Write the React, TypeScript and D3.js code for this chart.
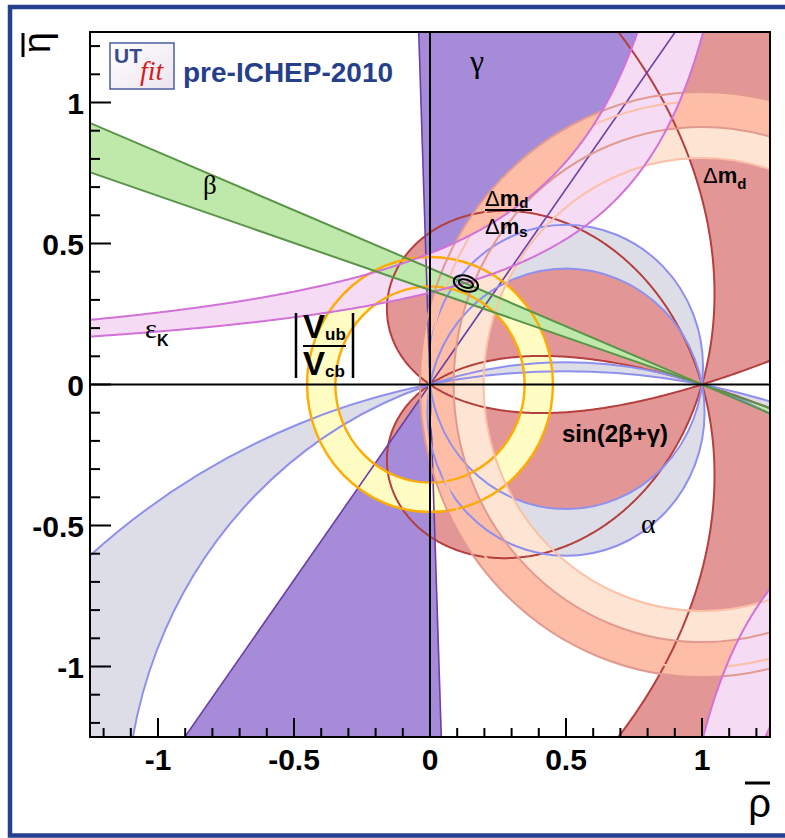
import React from 'react';
import * as d3 from 'd3';

// ---- canvas & axes ----
const WIDTH = 785;
const HEIGHT = 838;
const MARGIN = { left: 90, right: 15, top: 32, bottom: 101 };

const rhoRange = [-1.25, 1.25];
const etaRange = [-1.25, 1.25];
const majorTicks = [-1, -0.5, 0, 0.5, 1];
const majorTickLabels = ['-1', '-0.5', '0', '0.5', '1'];
const minorTicks = [-1.2, -1.1, -0.9, -0.8, -0.7, -0.6, -0.4, -0.3, -0.2, -0.1, 0.1, 0.2, 0.3, 0.4, 0.6, 0.7, 0.8, 0.9, 1.1, 1.2];

// ---- constraint bands (angles in degrees) ----
const gammaRange = [54.2, 91.9];
const betaRange = [18.5, 22.4];
const alphaRangeMain = [82.9, 101.1];
const alphaRangeMirror = [162.0, 169.2];
const sin2bgThreshold = [0.55];
const vubVcbRadius = [0.348, 0.452];
const dmdRadius = [0.803, 1.003];
const dmdDmsRadius = [0.913, 1.037];
// eps_K hyperbolae: eta = norm / (pole - rho)
const epsKPole = [1.215, 1.359];
const epsKNorm = [0.565, 0.443];
const epsKPoleLow = [0.665, 0.665];
const epsKNormLow = [0.424, 0.71];

// ---- fit result (68% / 95% contours) ----
const fitCenter = [0.132, 0.358];
const fitSemiAxes68 = [0.027, 0.014];
const fitSemiAxes95 = [0.046, 0.027];
const fitTilt = [18];

const x = d3.scaleLinear().domain(rhoRange).range([MARGIN.left, WIDTH - MARGIN.right]);
const y = d3.scaleLinear().domain(etaRange).range([HEIGHT - MARGIN.bottom, MARGIN.top]);
const kx = x(1) - x(0);
const ky = y(0) - y(1);
const deg = Math.PI / 180;

const line = d3.line<number[]>().x((d) => x(d[0])).y((d) => y(d[1]));

function circlePath(cr: number, ce: number, r: number) {
  const cx = x(cr), cy = y(ce), rx = r * kx, ry = r * ky;
  return `M${cx + rx},${cy}A${rx},${ry} 0 1 0 ${cx - rx},${cy}A${rx},${ry} 0 1 0 ${cx + rx},${cy}Z`;
}

// circle through (0,0) and (1,0) on which the angle alpha is constant
function alphaCircle(aDeg: number) {
  const t = aDeg * deg;
  return circlePath(0.5, 0.5 / Math.tan(t), 0.5 / Math.abs(Math.sin(t)));
}

function wedge(apex: number[], dirs: number[]) {
  const L = 8;
  const p = (t: number, s: number) => [apex[0] + s * L * Math.cos(t * deg), apex[1] + s * L * Math.sin(t * deg)];
  const up = [apex, p(dirs[0], 1), p(dirs[1], 1), apex];
  const down = [apex, p(dirs[0], -1), p(dirs[1], -1), apex];
  return line(up) + 'Z' + line(down) + 'Z';
}

function rayLine(apex: number[], t: number) {
  const L = 8;
  return line([
    [apex[0] - L * Math.cos(t * deg), apex[1] - L * Math.sin(t * deg)],
    [apex[0] + L * Math.cos(t * deg), apex[1] + L * Math.sin(t * deg)],
  ]);
}

function hyperbola(pole: number, norm: number, r0: number, r1: number) {
  const N = 500;
  return d3.range(N + 1).map((i) => {
    const r = r0 + ((r1 - r0) * i) / N;
    return [r, norm / (pole - r)];
  });
}

// eps_K upper band
const epsUpperA = hyperbola(epsKPole[0], epsKNorm[0], -1.3, epsKPole[0] - epsKNorm[0] / 1.45);
const epsUpperB = hyperbola(epsKPole[1], epsKNorm[1], -1.3, epsKPole[1] - epsKNorm[1] / 1.45);
const epsUpperBand = line([...epsUpperA, ...epsUpperB.slice().reverse()]) + 'Z';
// eps_K lower-right band
const epsLowA = hyperbola(epsKPoleLow[0], epsKNormLow[0], epsKPoleLow[0] + epsKNormLow[0] / 1.45, 1.3);
const epsLowB = hyperbola(epsKPoleLow[1], epsKNormLow[1], epsKPoleLow[1] + epsKNormLow[1] / 1.45, 1.3);
const epsLowBand = line([...epsLowA, ...epsLowB.slice().reverse()]) + 'Z';

// |sin(2beta+gamma)| region from a sampled grid
function sin2bgPath() {
  const n = 521, lo = -1.3, hi = 1.3, step = (hi - lo) / (n - 1);
  const values = new Array(n * n);
  for (let j = 0; j < n; j++) {
    const eta = lo + j * step;
    for (let i = 0; i < n; i++) {
      const rho = lo + i * step;
      const b = Math.atan2(eta, 1 - rho);
      const g = Math.atan2(eta, rho);
      values[j * n + i] = Math.abs(Math.sin(2 * b + g));
    }
  }
  const [c] = d3.contours().size([n, n]).thresholds(sin2bgThreshold)(values);
  const toPx = (p: number[]) => `${x(lo + (p[0] - 0.5) * step).toFixed(2)},${y(lo + (p[1] - 0.5) * step).toFixed(2)}`;
  return c.coordinates
    .map((poly) => poly.map((ring) => 'M' + ring.map(toPx).join('L') + 'Z').join(''))
    .join('');
}
const sin2bg = sin2bgPath();

const gammaWedge = wedge([0, 0], gammaRange);
const betaWedge = wedge([1, 0], [180 - betaRange[1], 180 - betaRange[0]]);
const alphaMain = alphaCircle(alphaRangeMain[0]) + alphaCircle(alphaRangeMain[1]);
const alphaMirror = alphaCircle(alphaRangeMirror[0]) + alphaCircle(alphaRangeMirror[1]);
const vubRing = circlePath(0, 0, vubVcbRadius[0]) + circlePath(0, 0, vubVcbRadius[1]);
const dmdRing = circlePath(1, 0, dmdRadius[0]) + circlePath(1, 0, dmdRadius[1]);
const dmsRing = circlePath(1, 0, dmdDmsRadius[0]) + circlePath(1, 0, dmdDmsRadius[1]);

const COL = {
  red: '#e29696', redLine: '#b53f3d',
  purple: '#a68bd9', purpleLine: '#6c3fa6',
  gray: '#dcdde7', grayLine: '#8f90ee',
  yellow: '#fffcc4', yellowLine: '#ffab00',
  peach: '#fee5d3', peachLine: '#fcbfa7',
  salmon: '#fdbda7', salmonLine: '#e09a90',
  pink: '#f6dbf5', pinkLine: '#d271d8',
  green: '#bfe9aa', greenLine: '#5a9448',
};

const SANS = 'Liberation Sans, Arial, Helvetica, sans-serif';
const SERIF = 'Liberation Serif, Times New Roman, serif';

export default function App() {
  const left = x(rhoRange[0]);
  const right = x(rhoRange[1]);
  const top = y(etaRange[1]);
  const bottom = y(etaRange[0]);
  const fc = [x(fitCenter[0]), y(fitCenter[1])];

  return (
    <svg
      width={WIDTH}
      height={HEIGHT}
      style={{ position: 'absolute', left: 0, top: 0, background: '#fff' }}
      xmlns="http://www.w3.org/2000/svg"
    >
      <defs>
        <clipPath id="plotArea">
          <rect x={left} y={top} width={right - left} height={bottom - top} />
        </clipPath>
        <linearGradient id="logoBg" x1="0" y1="0" x2="1" y2="1">
          <stop offset="0" stopColor="#ffffff" />
          <stop offset="1" stopColor="#ece4ee" />
        </linearGradient>
      </defs>
      <rect x={0} y={0} width={WIDTH} height={HEIGHT} fill="#fff" />
      <rect x={10} y={7} width={800} height={828.5} fill="none" stroke="#24408e" strokeWidth={4.5} />

      {/* filled constraints */}
      <g clipPath="url(#plotArea)" fillRule="evenodd">
        <path d={sin2bg} fill={COL.red} />
        <path d={gammaWedge} fill={COL.purple} />
        <path d={alphaMain} fill={COL.gray} />
        <path d={alphaMirror} fill={COL.gray} />
        <path d={vubRing} fill={COL.yellow} />
        <path d={dmdRing} fill={COL.peach} />
        <path d={dmsRing} fill={COL.salmon} />
        <path d={epsUpperBand} fill={COL.pink} />
        <path d={epsLowBand} fill={COL.pink} />
        <path d={betaWedge} fill={COL.green} />
      </g>

      {/* contour outlines */}
      <g clipPath="url(#plotArea)" fill="none">
        <path d={sin2bg} stroke={COL.redLine} strokeWidth={2} />
        <path d={rayLine([0, 0], gammaRange[0]) || ''} stroke={COL.purpleLine} strokeWidth={1.6} />
        <path d={rayLine([0, 0], gammaRange[1]) || ''} stroke={COL.purpleLine} strokeWidth={1.6} />
        <path d={alphaMain} stroke={COL.grayLine} strokeWidth={2} />
        <path d={alphaMirror} stroke={COL.grayLine} strokeWidth={2} />
        <path d={vubRing} stroke={COL.yellowLine} strokeWidth={2.4} />
        <path d={dmdRing} stroke={COL.peachLine} strokeWidth={2} />
        <path d={dmsRing} stroke={COL.salmonLine} strokeWidth={2} />
        <path d={line(epsUpperA) || ''} stroke={COL.pinkLine} strokeWidth={2} />
        <path d={line(epsUpperB) || ''} stroke={COL.pinkLine} strokeWidth={2} />
        <path d={line(epsLowA) || ''} stroke={COL.pinkLine} strokeWidth={2} />
        <path d={line(epsLowB) || ''} stroke={COL.pinkLine} strokeWidth={2} />
        <path d={rayLine([1, 0], 180 - betaRange[0]) || ''} stroke={COL.greenLine} strokeWidth={2} />
        <path d={rayLine([1, 0], 180 - betaRange[1]) || ''} stroke={COL.greenLine} strokeWidth={2} />
      </g>

      {/* rho = 0 and eta = 0 lines */}
      <line x1={left} x2={right} y1={y(0)} y2={y(0)} stroke="#000" strokeWidth={2} />
      <line x1={x(0)} x2={x(0)} y1={top} y2={bottom} stroke="#000" strokeWidth={2} />

      {/* fit contours */}
      <g fill="none" stroke="#000" strokeWidth={2} transform={`rotate(${fitTilt[0]} ${fc[0]} ${fc[1]})`}>
        <ellipse cx={fc[0]} cy={fc[1]} rx={fitSemiAxes95[0] * kx} ry={fitSemiAxes95[1] * ky} />
        <ellipse cx={fc[0]} cy={fc[1]} rx={fitSemiAxes68[0] * kx} ry={fitSemiAxes68[1] * ky} />
      </g>

      {/* frame and ticks */}
      <rect x={left} y={top} width={right - left} height={bottom - top} fill="none" stroke="#000" strokeWidth={2} />
      <g stroke="#000" strokeWidth={2}>
        {majorTicks.map((t) => (
          <line key={`xM${t}`} x1={x(t)} x2={x(t)} y1={bottom} y2={bottom - 19} />
        ))}
        {minorTicks.map((t) => (
          <line key={`xm${t}`} x1={x(t)} x2={x(t)} y1={bottom} y2={bottom - 9} />
        ))}
        {majorTicks.map((t) => (
          <line key={`yM${t}`} y1={y(t)} y2={y(t)} x1={left} x2={left + 21} />
        ))}
        {minorTicks.map((t) => (
          <line key={`ym${t}`} y1={y(t)} y2={y(t)} x1={left} x2={left + 10} />
        ))}
      </g>
      <g fontFamily={SANS} fontWeight="bold" fontSize={30} fill="#000">
        {majorTicks.map((t, i) => (
          <text key={`xl${t}`} x={x(t)} y={770} textAnchor="middle">
            {majorTickLabels[i]}
          </text>
        ))}
        {majorTicks.map((t, i) => (
          <text key={`yl${t}`} x={84} y={y(t) + 11} textAnchor="end">
            {majorTickLabels[i]}
          </text>
        ))}
      </g>

      {/* axis titles */}
      <text x={771} y={817} textAnchor="end" fontFamily={SANS} fontSize={40}>ρ</text>
      <line x1={745} x2={770} y1={783} y2={783} stroke="#000" strokeWidth={3} />
      <text transform="translate(50,32) rotate(-90)" textAnchor="end" fontFamily={SANS} fontSize={38}>η</text>
      <line x1={23} x2={23} y1={33} y2={57} stroke="#000" strokeWidth={3} />

      {/* logo and title */}
      <rect x={110} y={43} width={64} height={46} fill="url(#logoBg)" stroke="#4d5d9e" strokeWidth={1.5} />
      <text x={114} y={63} fontFamily={SANS} fontWeight="bold" fontSize={21} fill="#3a4a8c">UT</text>
      <text x={140} y={80} fontFamily={SERIF} fontStyle="italic" fontSize={28} fill="#d21d1d">fit</text>
      <text x={183} y={82} fontFamily={SANS} fontWeight="bold" fontSize={28} fill="#263f8c">pre-ICHEP-2010</text>

      {/* constraint labels */}
      <g fill="#000">
        <text x={470} y={72} fontFamily={SERIF} fontSize={32}>γ</text>
        <text x={203} y={194} fontFamily={SERIF} fontSize={27}>β</text>
        <text x={641} y={533} fontFamily={SERIF} fontSize={28}>α</text>
        <text x={145} y={338} fontFamily={SERIF} fontSize={28}>ε</text>
        <text x={157} y={346} fontFamily={SANS} fontWeight="bold" fontSize={16}>K</text>

        <line x1={296} x2={296} y1={313} y2={378} stroke="#000" strokeWidth={2.5} />
        <line x1={353} x2={353} y1={313} y2={378} stroke="#000" strokeWidth={2.5} />
        <text x={303} y={338} fontFamily={SANS} fontWeight="bold" fontSize={33}>V</text>
        <text x={325} y={340} fontFamily={SANS} fontWeight="bold" fontSize={17}>ub</text>
        <line x1={303} x2={346} y1={346} y2={346} stroke="#000" strokeWidth={2} />
        <text x={303} y={375} fontFamily={SANS} fontWeight="bold" fontSize={33}>V</text>
        <text x={325} y={377} fontFamily={SANS} fontWeight="bold" fontSize={17}>cb</text>

        <text x={485} y={206} fontFamily={SANS} fontSize={22}>
          Δ<tspan fontWeight="bold">m</tspan>
          <tspan fontWeight="bold" fontSize={15} dy={2}>d</tspan>
        </text>
        <line x1={485} x2={532} y1={210} y2={210} stroke="#000" strokeWidth={2} />
        <text x={485} y={234} fontFamily={SANS} fontSize={22}>
          Δ<tspan fontWeight="bold">m</tspan>
          <tspan fontWeight="bold" fontSize={15} dy={3}>s</tspan>
        </text>

        <text x={703} y={183} fontFamily={SANS} fontSize={22}>
          Δ<tspan fontWeight="bold">m</tspan>
          <tspan fontWeight="bold" fontSize={15} dy={6}>d</tspan>
        </text>

        <text x={562} y={442} fontFamily={SANS} fontWeight="bold" fontSize={24}>sin(2β+γ)</text>
      </g>
    </svg>
  );
}
